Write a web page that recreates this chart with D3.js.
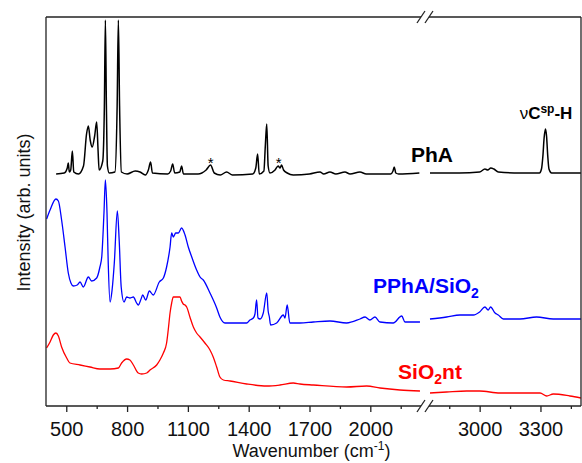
<!DOCTYPE html>
<html>
<head>
<meta charset="utf-8">
<script src="https://cdn.jsdelivr.net/npm/d3@7"></script>
<style>
  body { margin: 0; background: #fff; }
  svg { display: block; font-family: Arial, "Liberation Sans", sans-serif; }
</style>
</head>
<body>
<svg id="chart"></svg>
<script>
var width = 582;
var height = 463;
var margin = {left: 46, right: 1, top: 17, bottom: 57};
var breakGap = 8;

// axis break: two wavenumber ranges
var range1 = [400, 2250];
var range2 = [2750, 3500];
var majorTicks1 = [500, 800, 1100, 1400, 1700, 2000];
var minorTicks1 = [650, 950, 1250, 1550, 1850, 2150];
var majorTicks2 = [3000, 3300];
var minorTicks2 = [2850, 3150, 3450];

// [wavenumber, intensity (arb. units)]
var phaData = [
  [450, 232], [490, 233], [505, 238], [510, 243], [515, 234], [522, 236], [530, 255], [537, 234],
  [560, 232], [585, 240], [600, 272], [609, 280], [618, 266], [628, 259], [640, 270], [650, 284],
  [657, 255], [662, 236], [680, 245], [688, 300], [693, 386], [698, 300], [703, 240], [712, 233],
  [740, 234], [751, 300], [757, 386], [763, 300], [772, 234], [800, 232], [840, 235], [864, 234],
  [890, 231], [905, 236], [916, 244], [925, 233], [1000, 232], [1015, 235], [1025, 242], [1035, 233],
  [1060, 234], [1069, 240], [1078, 232], [1150, 232], [1190, 236], [1212, 241], [1230, 233],
  [1260, 231], [1291, 234], [1320, 231], [1420, 232], [1435, 238], [1444, 252], [1452, 232],
  [1475, 235], [1482, 260], [1489, 282], [1496, 240], [1505, 233], [1530, 236], [1545, 240],
  [1555, 238], [1562, 241], [1572, 236], [1590, 233], [1620, 231], [1700, 232], [1752, 234],
  [1770, 232], [1801, 234], [1830, 232], [1875, 234], [1900, 232], [1949, 234], [1980, 232],
  [2100, 232], [2112, 235], [2118, 239], [2126, 233], [2140, 232], [2242, 233],
  [2755, 233], [2900, 233], [3000, 234], [3026, 237], [3040, 236], [3055, 238], [3070, 237],
  [3092, 234], [3200, 233], [3295, 233], [3305, 237], [3312, 250], [3318, 268], [3325, 277],
  [3330, 270], [3336, 250], [3342, 237], [3355, 233], [3500, 233]
];

var pphaData = [
  [403, 187], [420, 196], [449, 207], [461, 205], [477, 186], [494, 159], [510, 133], [523, 123],
  [535, 120], [554, 121], [568, 124], [584, 119], [609, 129], [625, 125], [650, 128], [666, 139],
  [675, 149], [686, 193], [693, 226], [701, 193], [707, 143], [716, 104], [726, 116], [737, 143],
  [752, 195], [761, 166], [771, 119], [785, 104], [798, 109], [814, 108], [831, 109], [847, 103],
  [855, 101], [869, 107], [877, 111], [892, 106], [910, 115], [929, 111], [959, 124], [979, 128],
  [995, 139], [1012, 159], [1020, 173], [1028, 169], [1040, 173], [1053, 173], [1069, 178],
  [1086, 171], [1102, 159], [1119, 149], [1143, 136], [1160, 129], [1176, 126], [1209, 113],
  [1242, 98], [1258, 89], [1283, 83], [1341, 83], [1390, 83], [1406, 86], [1423, 88], [1431, 92],
  [1439, 106], [1446, 88], [1456, 87], [1472, 93], [1489, 113], [1496, 95], [1502, 89], [1508, 81],
  [1538, 83], [1571, 91], [1579, 88], [1590, 101], [1603, 83], [1637, 83], [1653, 83], [1719, 84],
  [1801, 85], [1883, 83], [1949, 87], [1974, 89], [1998, 86], [2023, 89], [2048, 84], [2113, 83],
  [2155, 90], [2171, 84], [2245, 84],
  [2755, 87], [2837, 89], [2903, 91], [2969, 91], [3000, 94], [3026, 99], [3042, 96], [3054, 99],
  [3076, 93], [3092, 91], [3117, 87], [3199, 87], [3281, 89], [3363, 87], [3500, 87]
];

var sio2Data = [
  [403, 58], [420, 64], [436, 71], [449, 73], [461, 70], [477, 59], [502, 48], [518, 43], [568, 41],
  [617, 39], [666, 37], [716, 37], [757, 38], [773, 43], [798, 47], [814, 46], [831, 41], [855, 33],
  [872, 32], [897, 33], [913, 36], [946, 41], [962, 46], [979, 53], [995, 63], [1003, 76],
  [1012, 93], [1020, 103], [1028, 109], [1045, 109], [1061, 109], [1069, 105], [1077, 102],
  [1086, 101], [1094, 99], [1110, 89], [1127, 79], [1143, 73], [1160, 69], [1184, 63], [1209, 56],
  [1225, 49], [1242, 39], [1258, 29], [1275, 26], [1308, 25], [1390, 22], [1489, 20], [1554, 21],
  [1620, 23], [1653, 22], [1719, 21], [1883, 19], [1982, 20], [2048, 18], [2146, 16], [2245, 15],
  [2755, 13], [2837, 14], [2936, 15], [3000, 15], [3100, 13], [3199, 13], [3298, 13], [3331, 10],
  [3363, 12], [3445, 10], [3500, 8]
];

var series = [
  {name: "PhA", data: phaData, color: "#000000", width: 1.5},
  {name: "PPhA/SiO2", data: pphaData, color: "#0000ff", width: 1.3},
  {name: "SiO2nt", data: sio2Data, color: "#ff0000", width: 1.3}
];

// asterisks marking bands in the PhA spectrum
var starWaves = [1212, 1548];
var starLevel = 238;

var svg = d3.select("#chart").attr("width", width).attr("height", height);

var plotBottom = height - margin.bottom;
var plotRight = width - margin.right;
var pxPerUnit = (plotRight - margin.left - breakGap) / ((range1[1] - range1[0]) + (range2[1] - range2[0]));
var x1End = margin.left + (range1[1] - range1[0]) * pxPerUnit;

var x1 = d3.scaleLinear().domain(range1).range([margin.left, x1End]);
var x2 = d3.scaleLinear().domain(range2).range([x1End + breakGap, plotRight]);
var y = d3.scaleLinear().domain([0, 389]).range([plotBottom, margin.top]);

var defs = svg.append("defs");
defs.append("clipPath").attr("id", "clip1").append("rect")
  .attr("x", margin.left).attr("y", margin.top)
  .attr("width", x1End - margin.left).attr("height", plotBottom - margin.top);
defs.append("clipPath").attr("id", "clip2").append("rect")
  .attr("x", x1End + breakGap).attr("y", margin.top)
  .attr("width", plotRight - x1End - breakGap).attr("height", plotBottom - margin.top);

// spectra
series.forEach(function (s) {
  var part1 = s.data.filter(function (d) { return d[0] <= range1[1]; });
  var part2 = s.data.filter(function (d) { return d[0] >= range2[0]; });
  [[part1, x1, "clip1"], [part2, x2, "clip2"]].forEach(function (p) {
    var line = d3.line()
      .x(function (d) { return p[1](d[0]); })
      .y(function (d) { return y(d[1]); })
      .curve(d3.curveMonotoneX);
    svg.append("path")
      .datum(p[0])
      .attr("clip-path", "url(#" + p[2] + ")")
      .attr("fill", "none")
      .attr("stroke", s.color)
      .attr("stroke-width", s.width)
      .attr("stroke-linejoin", "round")
      .attr("d", line);
  });
});

// frame
var frameColor = "#222";
var frame = svg.append("g").attr("stroke", frameColor).attr("stroke-width", 1.3).attr("fill", "none");
frame.append("line").attr("x1", margin.left).attr("x2", margin.left).attr("y1", margin.top).attr("y2", plotBottom);
frame.append("line").attr("x1", plotRight).attr("x2", plotRight).attr("y1", margin.top).attr("y2", plotBottom);
[margin.top, plotBottom].forEach(function (yy) {
  frame.append("line").attr("x1", margin.left).attr("x2", x1End).attr("y1", yy).attr("y2", yy);
  frame.append("line").attr("x1", x1End + breakGap).attr("x2", plotRight).attr("y1", yy).attr("y2", yy);
  // break marks
  [x1End, x1End + breakGap].forEach(function (xx) {
    frame.append("line")
      .attr("x1", xx - 4).attr("y1", yy + 6)
      .attr("x2", xx + 4).attr("y2", yy - 6);
  });
});

// x axes
function drawAxis(scale, major, minor) {
  var g = svg.append("g").attr("transform", "translate(0," + plotBottom + ")");
  g.call(d3.axisBottom(scale).tickValues(major).tickSize(6).tickPadding(10).tickFormat(d3.format("d")));
  g.select(".domain").remove();
  g.selectAll(".tick line").attr("stroke", frameColor).attr("stroke-width", 1.3);
  g.selectAll(".tick text").attr("fill", "#111").style("font-size", "20px");
  var gm = svg.append("g").attr("transform", "translate(0," + plotBottom + ")");
  gm.call(d3.axisBottom(scale).tickValues(minor).tickSize(3).tickFormat(""));
  gm.select(".domain").remove();
  gm.selectAll(".tick line").attr("stroke", frameColor).attr("stroke-width", 1.3);
}
drawAxis(x1, majorTicks1, minorTicks1);
drawAxis(x2, majorTicks2, minorTicks2);

// axis titles
var xTitle = svg.append("text")
  .attr("x", (margin.left + plotRight) / 2 - 2)
  .attr("y", 457)
  .attr("text-anchor", "middle")
  .style("font-size", "18px")
  .attr("fill", "#111");
xTitle.append("tspan").text("Wavenumber (cm");
xTitle.append("tspan").attr("dy", -7).style("font-size", "12px").text("-1");
xTitle.append("tspan").attr("dy", 7).text(")");

svg.append("text")
  .attr("transform", "translate(30," + ((margin.top + plotBottom) / 2 + 1) + ") rotate(-90)")
  .attr("text-anchor", "middle")
  .style("font-size", "18px")
  .attr("fill", "#111")
  .text("Intensity (arb. units)");

// asterisks
svg.selectAll("text.star")
  .data(starWaves)
  .enter()
  .append("text")
  .attr("class", "star")
  .attr("x", function (d) { return x1(d); })
  .attr("y", y(starLevel))
  .attr("text-anchor", "middle")
  .style("font-size", "15px")
  .text("*");

// labels
svg.append("text")
  .attr("x", 432).attr("y", 162)
  .attr("text-anchor", "middle")
  .style("font-size", "21px").style("font-weight", "bold")
  .text("PhA");

var vch = svg.append("text")
  .attr("x", 546).attr("y", 119)
  .attr("text-anchor", "middle")
  .style("font-size", "17px").style("font-weight", "bold");
vch.append("tspan").style("font-weight", "normal").text("\u03bd");
vch.append("tspan").text("C");
vch.append("tspan").attr("dy", -6).style("font-size", "12px").text("sp");
vch.append("tspan").attr("dy", 6).text("-H");

var ppLabel = svg.append("text")
  .attr("x", 426).attr("y", 293)
  .attr("text-anchor", "middle")
  .attr("fill", "#0000ff")
  .style("font-size", "21px").style("font-weight", "bold");
ppLabel.append("tspan").text("PPhA/SiO");
ppLabel.append("tspan").attr("dy", 5).style("font-size", "14px").text("2");

var siLabel = svg.append("text")
  .attr("x", 430).attr("y", 379)
  .attr("text-anchor", "middle")
  .attr("fill", "#ff0000")
  .style("font-size", "21px").style("font-weight", "bold");
siLabel.append("tspan").text("SiO");
siLabel.append("tspan").attr("dy", 5).style("font-size", "14px").text("2");
siLabel.append("tspan").attr("dy", -5).text("nt");
</script>
</body>
</html>
